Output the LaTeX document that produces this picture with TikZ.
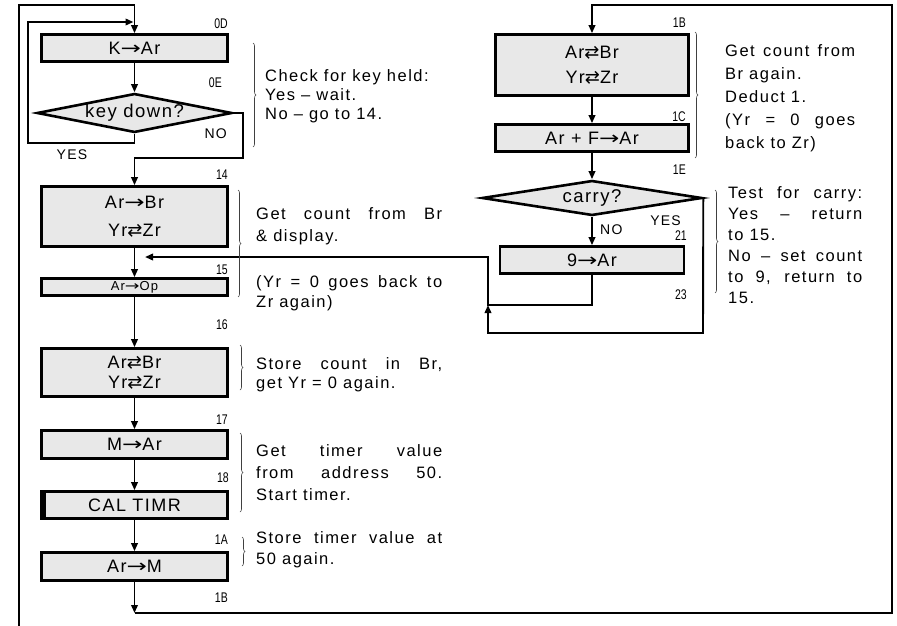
\documentclass[tikz,border=0pt]{standalone}
\usepackage{fontspec}
\usepackage{graphicx}
\usetikzlibrary{shapes.geometric,arrows.meta,decorations.pathreplacing,calc}
\setmainfont{Liberation Sans}
\newfontfamily\tf[LetterSpace=9]{Liberation Sans}
\newfontfamily\bxf[LetterSpace=8]{Liberation Sans}
\newfontfamily\numf[FakeStretch=0.75]{Liberation Sans}
\newfontfamily\arrf{DejaVu Sans}
\newcommand{\myra}{{\arrf\scalebox{1.35}[1]{\char"2192}}}
\newcommand{\mylr}{{\arrf\char"21C4}}
\newcommand{\jl}[2]{\makebox[#1][s]{#2}}
\tikzset{
  conn/.style={line width=1.9pt},
  farrow/.style={-{Triangle[length=8pt,width=6.5pt]}},
  pbox/.style={draw, line width=2.6pt, fill=black!9, inner sep=0pt, align=center,
    font=\bxf\fontsize{18}{20}\selectfont},
  dec/.style={draw, shape=diamond, line width=2.6pt, fill=black!9, inner sep=0pt, aspect=5,
    font=\bxf\fontsize{18.5}{20}\selectfont},
  lbl/.style={font=\numf\fontsize{14}{14}\selectfont, anchor=east, inner sep=0pt},
  yn/.style={font=\tf\fontsize{14}{14}\selectfont, inner sep=0pt},
  note/.style={font=\tf\fontsize{16.5}{#1}\selectfont, align=left, anchor=base west, inner sep=0pt},
  brc/.style={decorate, decoration={brace, amplitude=3pt}, line width=0.6pt, draw=black!75},
}
\begin{document}
\begin{tikzpicture}[x=1pt,y=-1pt]
\useasboundingbox (0,0) rectangle (897,626);
% ---------- left column ----------
\node[pbox, minimum width=186pt, minimum height=27pt] (kA) at (134.5,48) {K\myra Ar};
\node[dec, minimum width=195pt, minimum height=39pt] (dA) at (134.5,113) {key down?};
\node[pbox, minimum width=186pt, minimum height=60pt, font=\bxf\fontsize{18}{28}\selectfont] (n14) at (134.5,216.5) {Ar\myra Br\\Yr\mylr Zr};
\node[pbox, minimum width=186pt, minimum height=17pt, font=\bxf\fontsize{13}{13}\selectfont] (n15) at (134.5,287) {Ar\myra Op};
\node[pbox, minimum width=186pt, minimum height=48pt, font=\bxf\fontsize{18}{20}\selectfont] (n16) at (134.5,372.5) {Ar\mylr Br\\Yr\mylr Zr};
\node[pbox, minimum width=186pt, minimum height=28pt] (n17) at (134.5,444.5) {M\myra Ar};
\node[pbox, minimum width=186pt, minimum height=27pt] (n18) at (134.5,505) {CAL TIMR};
\fill (n18.north west) rectangle ($(n18.south west)+(5.5,0)$);
\node[pbox, minimum width=186pt, minimum height=28pt] (n1A) at (134.5,566.5) {Ar\myra M};
% ---------- right column ----------
\node[pbox, minimum width=193pt, minimum height=61pt, font=\bxf\fontsize{18}{25}\selectfont] (r1B) at (592,65) {Ar\mylr Br\\Yr\mylr Zr};
\node[pbox, minimum width=193pt, minimum height=27pt] (r1C) at (592,138) {Ar + F\myra Ar};
\node[dec, minimum width=220pt, minimum height=35pt] (dR) at (592,198) {carry?};
\node[pbox, minimum width=184pt, minimum height=27pt] (r9) at (592,260) {9\myra Ar};
% ---------- coordinates ----------
\coordinate (botL) at (19,626);
\coordinate (topL) at (134.5,5);
\coordinate (loopL) at (28,22);
\coordinate (jB) at (134.5,613);
\coordinate (jR) at (488,305);
\coordinate (ret) at (145,257);
% ---------- connectors ----------
\draw[conn, farrow] (botL) |- (topL) -- (kA.north);
\draw[conn, farrow] (kA.south) -- (dA.north);
\draw[conn, farrow, shorten >=1pt] (dA.south) -- ++(0,9) -| (loopL) -- (loopL -| topL);
\draw[conn, farrow] (dA.east) -- ++(10,0) |- (134.5,158) -- (n14.north);
\draw[conn, farrow] (n14.south) -- (n15.north);
\draw[conn, farrow] (n15.south) -- (n16.north);
\draw[conn, farrow] (n16.south) -- (n17.north);
\draw[conn, farrow] (n17.south) -- (n18.north);
\draw[conn, farrow] (n18.south) -- (n1A.north);
\draw[conn, farrow] (n1A.south) -- (jB);
\draw[conn, farrow] (jB) -- (892,613) -- (892,5) -- (592,5) -- (r1B.north);
\draw[conn, farrow] (r1B.south) -- (r1C.north);
\draw[conn, farrow] (r1C.south) -- (dR.north);
\draw[conn, farrow] (dR.south) -- (r9.north);
\draw[conn, farrow] (r9.south) |- (jR) |- (ret);
\draw[conn, farrow] (dR.east) -- (703,333) -| (jR);
% ---------- address labels ----------
\node[lbl] at (228,24) {0D};
\node[lbl] at (222,83) {0E};
\node[lbl] at (228,175) {14};
\node[lbl] at (228,270) {15};
\node[lbl] at (228,325) {16};
\node[lbl] at (228,420) {17};
\node[lbl] at (229,478) {18};
\node[lbl] at (228,540) {1A};
\node[lbl] at (228,598) {1B};
\node[lbl] at (686,23) {1B};
\node[lbl] at (686,117) {1C};
\node[lbl] at (686,170) {1E};
\node[lbl] at (687,236) {21};
\node[lbl] at (687,295) {23};
\node[yn, anchor=east] at (227,134) {NO};
\node[yn] at (72,155) {YES};
\node[yn, anchor=east] at (681,221) {YES};
\node[yn, anchor=west] at (600,230) {NO};
% ---------- braces ----------
\draw[brc] (253,43) -- (253,147);
\draw[brc] (238,190) -- (238,297);
\draw[brc] (240,345) -- (240,390);
\draw[brc] (240,433) -- (240,512);
\draw[brc] (242,537) -- (242,566);
\draw[brc] (695,32) -- (695,158);
\draw[brc] (715,190) -- (715,293);
% ---------- notes ----------
\node[note=19] (tA) at (265,119) {Check for key held:\\Yes – wait.\\No – go to 14.};
\node[note=22] (tB) at (256,241) {\jl{186pt}{Get count from Br}\\\& display.};
\node[note=20] (tC) at (256,307) {\jl{186pt}{(Yr = 0 goes back to}\\Zr again)};
\node[note=19] (tD) at (256,388) {\jl{186pt}{Store count in Br,}\\get Yr = 0 again.};
\node[note=22] (tE) at (256,500) {\jl{186pt}{Get timer value}\\\jl{186pt}{from address 50.}\\Start timer.};
\node[note=21] (tF) at (256,564) {\jl{186pt}{Store timer value at}\\50 again.};
\node[note=23] (tG) at (725,148) {\jl{130pt}{Get count from}\\Br again.\\Deduct 1.\\\jl{130pt}{(Yr = 0 goes}\\back to Zr)};
\node[note=21] (tH) at (728,303) {\jl{134pt}{Test for carry:}\\\jl{134pt}{Yes – return}\\to 15.\\\jl{134pt}{No – set count}\\\jl{134pt}{to 9, return to}\\15.};
\end{tikzpicture}
\end{document}
